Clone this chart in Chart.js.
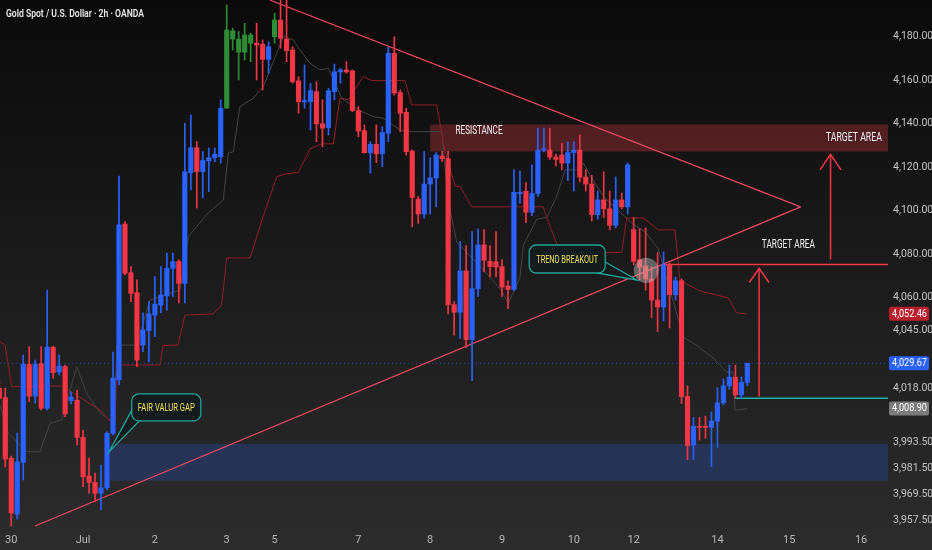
<!DOCTYPE html>
<html>
<head>
<meta charset="utf-8">
<script src="https://cdn.jsdelivr.net/npm/chart.js@4.4.1/dist/chart.umd.min.js"></script>
<style>
  html, body { margin: 0; padding: 0; background: #0b0b0b; }
  #wrap { width: 932px; height: 550px; }
</style>
</head>
<body>
<div id="wrap"><canvas id="chart"></canvas></div>
<script>
// 2h candles, index 0 = first candle on the left
const opens = [4018.2,4013.9,3986.0,3960.3,3984.1,4029.2,4014.6,4029.5,4009.0,4037.1,4025.7,4028.2,4012.5,4012.7,3995.6,3977.8,3974.9,3969.9,3972.4,3997.5,
  4022.0,4093.8,4071.4,4062.2,4038.1,4044.7,4051.9,4056.5,4060.7,4073.4,4076.5,4066.5,4117.4,4128.9,4117.9,4122.8,4124.3,4124.8,4147.1,4182.7,
  4178.9,4172.9,4180.8,4177.0,4176.5,4169.6,4180.0,4187.7,4178.9,4173.9,4159.7,4150.0,4150.1,4154.7,4139.9,4138.2,4154.7,4163.8,4164.7,4164.3,
  4146.0,4136.8,4126.6,4130.5,4126.1,4135.6,4172.4,4154.3,4145.2,4127.4,4105.3,4098.4,4112.2,4115.0,4125.1,4123.9,4056.7,4053.2,4072.2,4040.6,
  4064.0,4084.2,4076.6,4076.4,4074.2,4065.3,4063.7,4107.8,4108.9,4099.2,4107.8,4127.8,4127.8,4124.6,4125.6,4121.8,4126.7,4127.8,4115.4,4112.2,
  4098.1,4104.9,4100.8,4093.2,4104.9,4101.7,4091.2,4077.4,4074.5,4068.5,4058.8,4055.6,4075.0,4061.3,4067.7,4014.4,3992.1,4000.7,4000.7,4000.2,
  4003.1,4011.5,4019.3,4023.3,4015.2,4020.9];
const highs = [4022.0,4018.3,3987.0,3997.6,4033.5,4037.3,4031.2,4037.3,4063.4,4037.5,4033.5,4028.9,4016.6,4017.4,3999.0,3986.1,3979.2,3982.9,3998.2,4034.9,
  4115.9,4094.9,4074.2,4068.1,4052.9,4058.1,4069.6,4074.2,4080.4,4080.4,4077.3,4140.2,4144.0,4131.7,4127.1,4128.8,4128.8,4150.9,4194.6,4183.9,
  4182.4,4186.2,4181.6,4186.2,4178.5,4177.7,4190.8,4198.0,4200.0,4175.4,4161.6,4167.0,4158.6,4159.3,4150.9,4156.3,4167.4,4165.5,4168.5,4164.7,
  4147.8,4139.4,4131.7,4139.4,4138.6,4175.2,4180.0,4155.5,4147.1,4127.9,4106.4,4127.1,4124.2,4126.7,4127.2,4127.2,4058.0,4085.8,4083.9,4090.3,
  4091.6,4091.2,4083.9,4090.3,4077.4,4067.7,4118.7,4118.2,4112.9,4121.0,4138.0,4138.0,4138.0,4126.1,4131.1,4131.6,4131.6,4134.8,4118.7,4116.2,
  4109.0,4117.8,4109.0,4115.5,4108.1,4121.9,4096.8,4091.6,4092.0,4074.2,4080.7,4081.0,4075.9,4069.4,4068.5,4019.3,4004.8,4004.8,4005.4,4007.3,
  4018.5,4022.5,4028.9,4028.9,4023.4,4029.8];
const lows = [4012.8,3982.0,3954.8,3958.0,3976.0,4012.0,4011.4,4008.2,4008.2,4022.9,4024.3,4005.1,4011.0,3992.1,3972.9,3969.9,3966.0,3962.2,3971.4,3996.7,
  4019.7,4070.4,4058.1,4028.2,4035.0,4030.4,4041.9,4052.9,4054.2,4060.4,4057.5,4057.5,4109.5,4101.2,4105.8,4108.7,4122.5,4121.8,4147.1,4173.9,
  4160.1,4169.3,4168.5,4160.1,4155.5,4163.2,4177.0,4174.7,4168.5,4158.6,4144.8,4147.1,4137.1,4131.7,4129.4,4134.8,4150.9,4158.6,4163.2,4145.5,
  4134.0,4126.4,4117.2,4122.1,4120.2,4131.7,4153.2,4136.3,4125.6,4092.6,4094.1,4096.5,4098.4,4101.7,4122.6,4052.4,4042.7,4041.1,4037.0,4021.7,
  4060.5,4071.7,4069.4,4069.4,4060.5,4054.8,4063.0,4103.3,4094.4,4097.6,4106.5,4127.0,4123.5,4120.5,4118.7,4113.8,4109.0,4113.2,4109.0,4095.2,
  4096.0,4096.8,4091.1,4092.0,4100.8,4098.4,4075.0,4068.1,4063.4,4050.8,4044.3,4049.2,4046.0,4058.8,4011.2,3985.4,3985.4,3994.4,3995.3,3982.1,
  3991.0,4010.5,4017.6,4013.6,4013.6,4019.3];
const closes = [4013.6,3985.6,3960.8,3984.3,4029.2,4014.6,4029.2,4009.0,4037.1,4025.4,4028.5,4006.4,4014.1,3995.6,3977.5,3974.9,3969.9,3972.4,3997.5,4022.9,
  4093.4,4071.1,4061.9,4031.2,4045.0,4052.4,4057.0,4061.2,4073.4,4076.5,4066.5,4117.9,4128.9,4117.9,4123.0,4124.3,4125.9,4147.1,4183.1,4178.9,
  4172.9,4180.8,4177.0,4176.2,4169.6,4175.4,4187.7,4179.3,4173.6,4159.3,4150.1,4150.6,4155.2,4139.9,4137.9,4155.1,4163.9,4164.7,4163.8,4146.0,
  4136.6,4126.6,4130.5,4126.1,4135.9,4172.4,4154.1,4144.8,4127.1,4106.0,4098.4,4112.2,4115.0,4125.6,4123.9,4056.7,4053.2,4072.2,4040.6,4064.0,
  4084.2,4077.1,4074.2,4074.0,4064.8,4063.7,4108.4,4108.4,4099.2,4107.8,4127.8,4128.4,4124.6,4123.5,4121.8,4126.7,4127.8,4115.4,4112.2,4098.1,
  4104.9,4100.8,4093.2,4104.9,4101.7,4121.0,4076.6,4073.9,4068.5,4058.8,4055.6,4075.0,4061.3,4067.7,4014.4,3991.8,4000.7,4000.2,4000.2,4003.1,
  4011.5,4019.3,4023.3,4015.2,4020.9,4029.67];
const greenBars = [38, 39, 40, 41, 42, 46];

// day labels on the time axis (candle index where each day starts)
const dayTicks = [2, 14, 26, 38, 46, 60, 72, 84, 96, 106, 120, 132, 144];
const dayLabels = ['30', 'Jul', '2', '3', '5', '7', '8', '9', '10', '12', '14', '15', '16'];
const priceTicks = [4180, 4160, 4140, 4120, 4100, 4080, 4060, 4045, 4018, 3993.5, 3981.5, 3969.5, 3957.5];

// red trailing line and grey average line
const trailX = [0.12,0.95,2.07,10.48,16.83,18.5,19.33,19.67,26.85,27.35,29.86,31.03,35.71,37.16,38.0,41.9,43.85,46.35,48.03,49.96,51.92,53.87,55.81,56.93,58.32,60.83,62.23,67.79,68.91,73.09,74.48,76.15,76.99,78.94,90.9,91.47,93.69,104.0,104.84,107.6,110.1,112.9,113.75,117.1,121.8,123.2,124.9];
const trailY = [4039.6,4038.1,4018.9,4019.3,4008.2,4003.1,4003.1,4028.9,4028.9,4037.9,4038.1,4051.9,4052.4,4056.6,4078.2,4078.2,4095.2,4115.5,4117.0,4117.5,4128.4,4130.7,4130.7,4151.8,4150.9,4161.7,4159.8,4159.8,4148.6,4148.6,4127.4,4111.3,4111.0,4101.7,4101.7,4096.8,4080.7,4080.7,4096.6,4096.6,4091.1,4091.1,4067.7,4063.0,4059.8,4052.9,4052.46];
const avgX = [0.12,1.5,4.58,6.8,8.47,10.43,12.93,14.6,16.83,19.17,19.67,22.96,25.18,30.2,31.58,34.92,37.43,38.27,39.1,40.22,42.45,44.12,46.35,47.46,49.13,50.25,51.92,53.59,54.98,57.22,59.99,62.5,64.17,66.96,68.91,73.93,74.98,76.43,79.78,81.99,83.95,85.05,87.01,87.56,89.8,91.47,93.14,94.53,96.48,97.59,98.7,100.93,105.94,107.9,110.12,114.3,116.54,119.31,121.55,122.6,122.94,125.0];
const avgY = [4010.5,3997.6,3989.0,3989.0,4002.1,4003.6,4028.1,4015.9,4006.8,4002.2,4038.1,4038.1,4058.8,4063.4,4088.0,4098.9,4104.9,4126.4,4127.1,4147.8,4151.7,4157.0,4172.4,4180.0,4178.5,4173.9,4167.8,4164.7,4165.5,4151.7,4146.3,4143.2,4142.5,4137.1,4136.3,4136.4,4104.9,4085.6,4075.9,4069.4,4063.0,4057.2,4069.4,4083.9,4096.0,4096.8,4106.5,4118.7,4118.7,4121.9,4116.4,4106.5,4093.6,4090.3,4082.3,4041.8,4037.9,4032.1,4025.7,4025.7,4008.0,4008.9];

// drawings
const triUpperX = [45.2, 133.9], triUpperY = [4196.9, 4101.7];
const triLowerX = [5.97, 133.9], triLowerY = [3954.8, 4101.7];
const targetLevel = 4075.2, targetFrom = 111;
const supportLevel = 4013.6, supportFrom = 122.9;
const lastPrice = 4029.67, trailLast = 4052.46, avgLast = 4008.90;
const resTop = 4139.6, resBottom = 4127.2, resFrom = 72.0;
const fvgTop = 3992.6, fvgBottom = 3975.7, fvgFrom = 18.5;
const arrow1X = 126.96, arrow1From = 4014.4, arrow1To = 4073.4;
const arrow2X = 138.9, arrow2From = 4077.4, arrow2To = 4125.9;

const X_MIN = 0.117, X_MAX = 148.5, Y_MIN = 3953.9, Y_MAX = 4196.9;
const BLUE = '#2962ff', RED = '#f23645', GREEN = '#2e8b36';
const AXIS_FONT = '"Liberation Sans Narrow", Roboto, sans-serif';

const idx = opens.map((_, i) => i);
const candleColor = idx.map(i => greenBars.includes(i) ? GREEN : (closes[i] >= opens[i] ? BLUE : RED));
const pts = (xs, ys) => xs.map((x, i) => ({ x: x, y: ys[i] }));
const lineDs = (data, color, width, extra) => Object.assign({
  type: 'line', data: data, borderColor: color, borderWidth: width,
  pointRadius: 0, fill: false, tension: 0, order: 5
}, extra || {});

function squeeze(ctx, text, x, y, size, color, width, align, weight) {
  ctx.save();
  ctx.font = (weight || 'normal') + ' ' + size + 'px Roboto, sans-serif';
  const w = ctx.measureText(text).width;
  ctx.translate(x, y);
  ctx.scale(width / w, 1);
  ctx.fillStyle = color;
  ctx.textAlign = align || 'center';
  ctx.textBaseline = 'middle';
  ctx.fillText(text, 0, 0);
  ctx.restore();
}

function roundRect(ctx, x, y, w, h, r) {
  ctx.beginPath();
  ctx.moveTo(x + r, y);
  ctx.arcTo(x + w, y, x + w, y + h, r);
  ctx.arcTo(x + w, y + h, x, y + h, r);
  ctx.arcTo(x, y + h, x, y, r);
  ctx.arcTo(x, y, x + w, y, r);
  ctx.closePath();
}

function callout(ctx, cx, cy, w, h, tip, base1, base2, text, textW) {
  ctx.save();
  ctx.fillStyle = '#131b1c';
  ctx.strokeStyle = '#1fa39c';
  ctx.lineWidth = 1.3;
  ctx.beginPath();
  ctx.moveTo(base1.x, base1.y);
  ctx.lineTo(tip.x, tip.y);
  ctx.lineTo(base2.x, base2.y);
  ctx.closePath();
  ctx.fill();
  ctx.stroke();
  roundRect(ctx, cx - w / 2, cy - h / 2, w, h, 7);
  ctx.fill();
  ctx.stroke();
  ctx.restore();
  squeeze(ctx, text, cx, cy + 1, 11, '#f2e35a', textW);
}

const bgPlugin = {
  id: 'bg',
  beforeDraw(chart) {
    const ctx = chart.ctx;
    const g = ctx.createLinearGradient(0, 0, 0, chart.height);
    g.addColorStop(0, '#0a0a0a');
    g.addColorStop(1, '#2c2c2c');
    ctx.save();
    ctx.fillStyle = g;
    ctx.fillRect(0, 0, chart.width, chart.height);
    ctx.restore();
  }
};

const zonePlugin = {
  id: 'zones',
  beforeDatasetsDraw(chart) {
    const { ctx, chartArea: a, scales: { x, y } } = chart;
    ctx.save();
    ctx.beginPath();
    ctx.rect(a.left, a.top, a.right - a.left, a.bottom - a.top);
    ctx.clip();
    const fx = x.getPixelForValue(fvgFrom);
    ctx.fillStyle = 'rgba(41, 98, 255, 0.22)';
    ctx.fillRect(fx, y.getPixelForValue(fvgTop), a.right - fx, y.getPixelForValue(fvgBottom) - y.getPixelForValue(fvgTop));
    const rx = x.getPixelForValue(resFrom);
    ctx.fillStyle = 'rgba(200, 55, 65, 0.35)';
    ctx.fillRect(rx, y.getPixelForValue(resTop), a.right - rx, y.getPixelForValue(resBottom) - y.getPixelForValue(resTop));
    ctx.restore();
  },
  afterDatasetsDraw(chart) {
    const { ctx, scales: { x, y } } = chart;
    const P = (i, v) => ({ x: x.getPixelForValue(i), y: y.getPixelForValue(v) });

    // breakout marker
    const c = P(108.1, 4072.5);
    ctx.save();
    ctx.fillStyle = 'rgba(200, 200, 200, 0.42)';
    ctx.beginPath();
    ctx.arc(c.x, c.y, 12.5, 0, Math.PI * 2);
    ctx.fill();
    ctx.restore();

    // callouts
    const f = P(27.9, 4009.4), ft = P(18.33, 3988.9);
    callout(ctx, f.x, f.y, 69, 27, ft, { x: f.x - 34, y: f.y + 2 }, { x: f.x - 27, y: f.y + 13.5 }, 'FAIR VALUR GAP', 57);
    const t = P(94.9, 4077.7), tt = P(106.6, 4068.0);
    callout(ctx, t.x, t.y, 76, 28, tt, { x: t.x + 38, y: t.y + 3 }, { x: t.x + 30, y: t.y + 14 }, 'TREND BREAKOUT', 62);

    // labels
    const r = P(80.16, 4136.6);
    squeeze(ctx, 'RESISTANCE', r.x, r.y, 12.5, '#f2f2f2', 47);
    const ta = P(142.8, 4133.7);
    squeeze(ctx, 'TARGET AREA', ta.x, ta.y, 13, '#f2f2f2', 56);
    const tb = P(131.85, 4084.4);
    squeeze(ctx, 'TARGET AREA', tb.x, tb.y, 13, '#f2f2f2', 53);

    squeeze(ctx, 'Gold Spot / U.S. Dollar · 2h · OANDA', 6, 14, 10.5, '#e8e8e8', 138, 'left', '600');
  },
  afterDraw(chart) {
    const { ctx, chartArea: a, scales: { y } } = chart;
    const tags = [[trailLast, '#b8202c'], [lastPrice, BLUE], [avgLast, '#7b7b7b']];
    tags.forEach(([v, col]) => {
      const py = y.getPixelForValue(v);
      ctx.save();
      ctx.fillStyle = col;
      roundRect(ctx, a.right + 1, py - 7, 40, 14, 2);
      ctx.fill();
      ctx.restore();
      squeeze(ctx, v.toLocaleString('en-US', { minimumFractionDigits: 2, maximumFractionDigits: 2 }),
        a.right + 4, py + 0.5, 10, '#ffffff', 35, 'left');
    });
  }
};

const datasets = [
  {
    type: 'bar', label: 'body',
    data: idx.map(i => ({ x: i, y: [opens[i], closes[i]] })),
    backgroundColor: candleColor, barThickness: 4.5, minBarLength: 1, grouped: false, order: 0
  },
  {
    type: 'bar', label: 'wick',
    data: idx.map(i => ({ x: i, y: [lows[i], highs[i]] })),
    backgroundColor: candleColor, barThickness: 1, grouped: false, order: 1
  },
  lineDs(pts(trailX, trailY), '#8e1f28', 1),
  lineDs(pts(avgX, avgY), '#444444', 1),
  lineDs(pts([X_MIN, X_MAX], [lastPrice, lastPrice]), 'rgba(41, 98, 255, 0.6)', 1, { borderDash: [1, 3] }),
  lineDs(pts(triUpperX, triUpperY), '#ef4a62', 1.2, { order: 3 }),
  lineDs(pts(triLowerX, triLowerY), '#ef4a62', 1.2, { order: 3 }),
  lineDs(pts([targetFrom, X_MAX], [targetLevel, targetLevel]), RED, 1.5, { order: 3 }),
  lineDs(pts([supportFrom, X_MAX], [supportLevel, supportLevel]), '#1fb3aa', 1.5, { order: 3 }),
  lineDs(pts([arrow1X, arrow1X], [arrow1From, arrow1To]), RED, 1.5, { order: 3 }),
  lineDs(pts([arrow1X - 1.65, arrow1X, arrow1X + 1.65], [arrow1To - 6.5, arrow1To, arrow1To - 6.5]), RED, 1.5, { order: 3 }),
  lineDs(pts([arrow2X, arrow2X], [arrow2From, arrow2To]), RED, 1.5, { order: 3 }),
  lineDs(pts([arrow2X - 1.75, arrow2X, arrow2X + 1.75], [arrow2To - 7.2, arrow2To, arrow2To - 7.2]), RED, 1.5, { order: 3 })
];

new Chart(document.getElementById('chart'), {
  type: 'bar',
  data: { datasets: datasets },
  plugins: [bgPlugin, zonePlugin],
  options: {
    responsive: true,
    maintainAspectRatio: false,
    animation: false,
    events: [],
    layout: { padding: 0 },
    plugins: { legend: { display: false }, tooltip: { enabled: false } },
    scales: {
      x: {
        type: 'linear', min: X_MIN, max: X_MAX, offset: false,
        grid: { display: false, drawTicks: false }, border: { display: false },
        ticks: {
          color: '#b7b7b7', font: { size: 11, family: AXIS_FONT },
          padding: 6, maxRotation: 0, autoSkip: false,
          callback: v => dayLabels[dayTicks.indexOf(v)]
        },
        afterBuildTicks: s => { s.ticks = dayTicks.map(v => ({ value: v })); },
        afterFit: s => { s.height = 22; s.paddingLeft = 0; s.paddingRight = 0; }
      },
      y: {
        type: 'linear', position: 'right', min: Y_MIN, max: Y_MAX,
        grid: { display: false, drawTicks: false }, border: { display: false },
        ticks: {
          color: '#c4c4c4', font: { size: 10.5, family: AXIS_FONT },
          padding: 5, autoSkip: false,
          callback: v => v.toLocaleString('en-US', { minimumFractionDigits: 2, maximumFractionDigits: 2 })
        },
        afterBuildTicks: s => { s.ticks = priceTicks.map(v => ({ value: v })); },
        afterFit: s => { s.width = 44; s.paddingTop = 0; s.paddingBottom = 0; }
      }
    }
  }
});
</script>
</body>
</html>
